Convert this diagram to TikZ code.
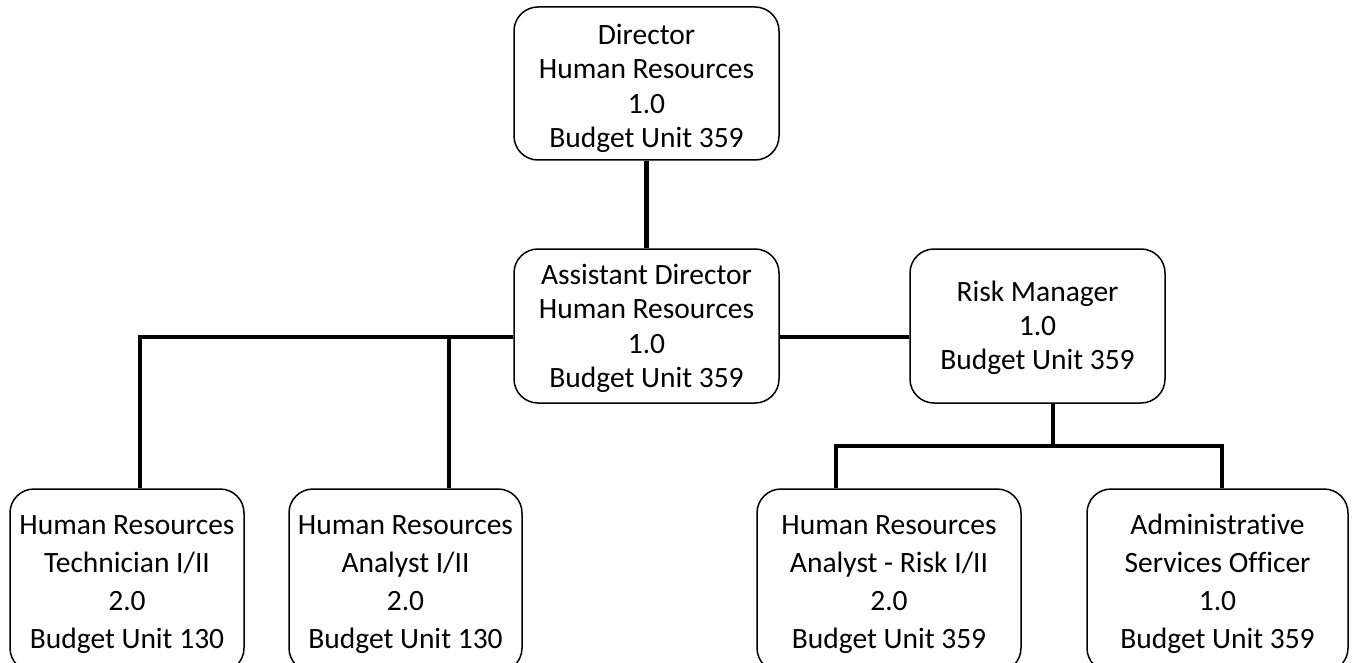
\documentclass[tikz,border=0pt]{standalone}
\usepackage{fontspec}
\setmainfont{Carlito}[Ligatures=NoCommon]
\newcommand\mytopstrut[1]{\rule{0pt}{#1pt}}
\begin{document}
\begin{tikzpicture}[x=1pt,y=-1pt,
  box/.style={draw=black,line width=1.5pt,rounded corners=24pt,align=center,
    inner sep=0pt,font=\fontsize{29.5}{34.3}\selectfont},
  lowbox/.style={box,minimum height=183pt,font=\fontsize{29.5}{38}\selectfont},
  conn/.style={line width=4.5pt}]
\useasboundingbox (0,0) rectangle (1356,663);
% boxes
\node[box,minimum width=265pt,minimum height=153pt] (dir) at (646.5,83.5)
  {\mytopstrut{30}Director\\Human Resources\\1.0\\Budget Unit 359};
\node[box,minimum width=265pt,minimum height=154pt] (ad) at (646.5,326)
  {\mytopstrut{25}Assistant Director\\Human Resources\\1.0\\Budget Unit 359};
\node[box,minimum width=255pt,minimum height=154pt] (rm) at (1037.5,326)
  {\mytopstrut{24}Risk Manager\\1.0\\Budget Unit 359};
\node[lowbox,minimum width=234pt] (b1) at (127,580.5)
  {\mytopstrut{27.5}Human Resources\\Technician I/II\\2.0\\Budget Unit 130};
\node[lowbox,minimum width=233pt] (b2) at (405.5,580.5)
  {\mytopstrut{27.5}Human Resources\\Analyst I/II\\2.0\\Budget Unit 130};
\node[lowbox,minimum width=264pt] (b3) at (889,580.5)
  {\mytopstrut{27.5}Human Resources\\Analyst - Risk I/II\\2.0\\Budget Unit 359};
\node[lowbox,minimum width=261pt] (b4) at (1217.5,580.5)
  {\mytopstrut{27.5}Administrati\kern0pt ve\\Services Of\kern0pt f\kern0pt icer\\1.0\\Budget Unit 359};
% junction coordinates
\coordinate (hl) at (0,337);
\coordinate (hr) at (0,446);
\coordinate (x1) at (140,0);
\coordinate (x2) at (449,0);
\coordinate (x3) at (836,0);
\coordinate (x4) at (1222,0);
\coordinate (xr) at (1053,0);
% connectors
\draw[conn] (dir.south) -- (ad.north);
\draw[conn] (ad.east |- hl) -- (rm.west |- hl);
\draw[conn,line join=miter] (ad.west |- hl) -- (x1 |- hl) -- (b1.north -| x1);
\draw[conn] (x2 |- hl) -- (b2.north -| x2);
\draw[conn] (rm.south -| xr) -- (xr |- hr);
\draw[conn,line join=miter] (b3.north -| x3) -- (x3 |- hr) -- (x4 |- hr) -- (b4.north -| x4);
\end{tikzpicture}
\end{document}
